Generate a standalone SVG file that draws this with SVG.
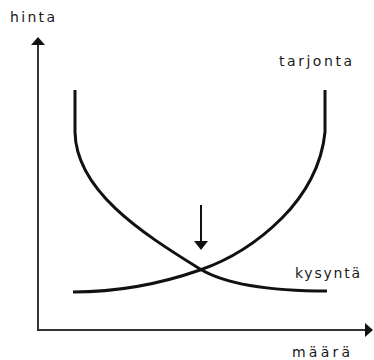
<svg xmlns="http://www.w3.org/2000/svg" width="374" height="360" viewBox="0 0 374 360">
  <style>
    .lbl { font-family: "DejaVu Sans", "Liberation Sans", sans-serif; font-size: 14px; fill: #1a1a1a; }
    .axis { stroke: #333; stroke-width: 2; fill: none; }
    .curve { stroke: #111; stroke-width: 3; fill: none; stroke-linejoin: round; }
    .head { fill: #111; }
  </style>
  <rect width="374" height="360" fill="#fff"/>
  <g id="axes">
    <line class="axis" x1="38" y1="331" x2="38" y2="44"/>
    <polygon class="head" points="38,37 31,45 45,45"/>
    <line class="axis" x1="37" y1="330" x2="366" y2="330"/>
    <polygon class="head" points="373,330 365,323 365,337"/>
  </g>
  <g id="kysynta">
    <path class="curve" d="M75,90 V132 C76,190 140,232 200,269 C225,284 265,291 327,291"/>
    <text class="lbl" x="295" y="278" textLength="65" lengthAdjust="spacing">kysyntä</text>
  </g>
  <g id="tarjonta">
    <path class="curve" d="M73,292 C120,292 160,284 200,270 C235,258 260,240 282,218 C305,195 322,165 325,132 V90"/>
    <text class="lbl" x="279" y="66" textLength="73" lengthAdjust="spacing">tarjonta</text>
  </g>
  <g id="labels">
    <text class="lbl" x="10" y="22" textLength="45" lengthAdjust="spacing">hinta</text>
    <text class="lbl" x="292" y="357" textLength="58" lengthAdjust="spacing">määrä</text>
  </g>
  <g id="connectors">
    <line x1="201" y1="205" x2="201" y2="243" stroke="#111" stroke-width="2"/>
    <polygon class="head" points="194,241 208,241 201,250"/>
  </g>
</svg>
